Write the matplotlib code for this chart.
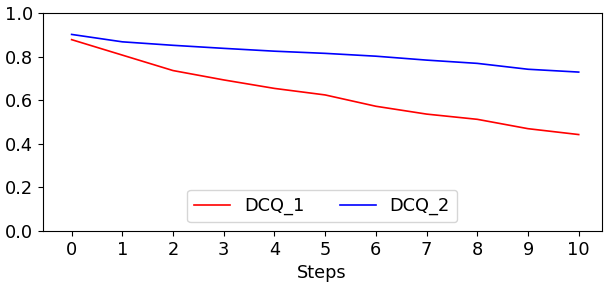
import numpy as np
import matplotlib
matplotlib.use('Agg')
import matplotlib.pyplot as plt

# ========== 数据 ==========
steps = list(range(11))
dcq_1 = [0.879, 0.808, 0.737, 0.694, 0.655, 0.625, 0.573, 0.537, 0.513, 0.470, 0.443]
dcq_2 = [0.903, 0.869, 0.853, 0.839, 0.826, 0.816, 0.803, 0.785, 0.770, 0.743, 0.730]

plt.rcParams['font.size'] = 12.8

fig = plt.figure(figsize=(6.11, 2.85), dpi=100)
ax = fig.add_axes([0.0699, 0.1895, 0.9146, 0.7638])

ax.plot(steps, dcq_1, color='red', linewidth=1.2, label='DCQ_1')
ax.plot(steps, dcq_2, color='blue', linewidth=1.2, label='DCQ_2')

ax.set_xlim(-0.57, 10.45)
ax.set_ylim(0, 1.0)
ax.set_xticks(steps)
ax.set_yticks([0.0, 0.2, 0.4, 0.6, 0.8, 1.0])
ax.set_xlabel('Steps')

ax.legend(loc='lower center', ncol=2)

fig.savefig('out.png', dpi=100)
